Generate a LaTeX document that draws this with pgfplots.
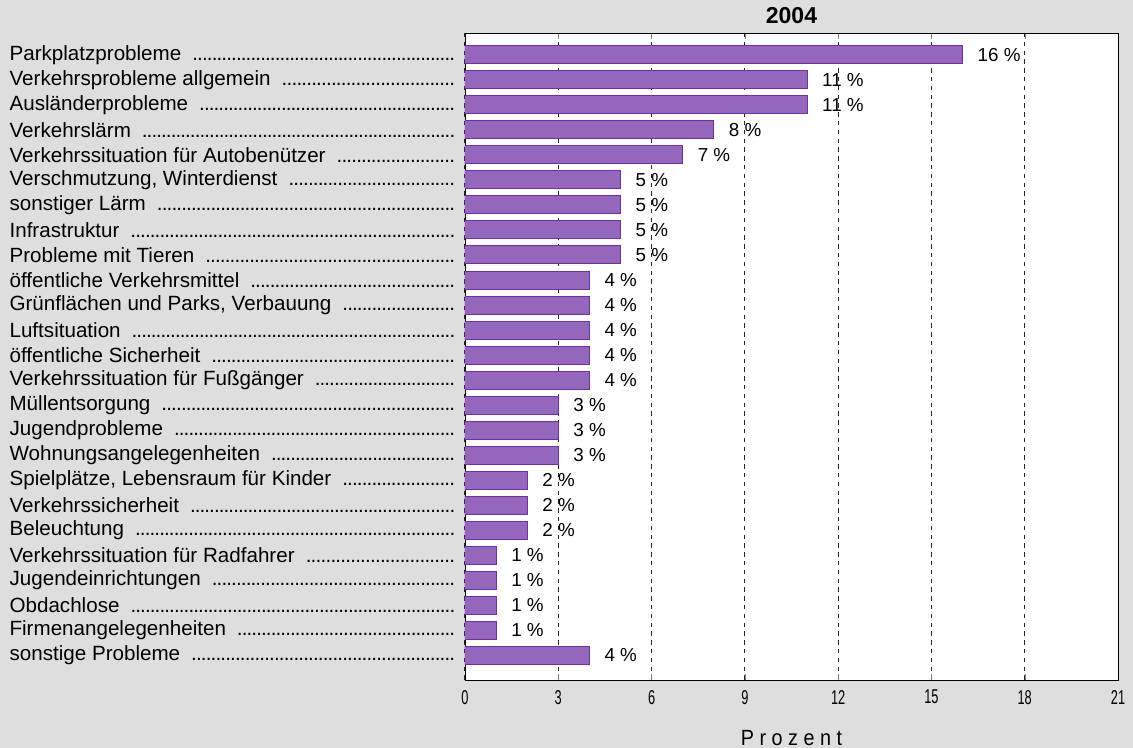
\documentclass[border=0pt]{standalone}
\usepackage{fontspec}
\setmainfont{Liberation Sans}
\newfontfamily\narrowfont[FakeStretch=0.64]{Liberation Sans}
\newfontfamily\xlabfont[FakeStretch=0.9]{Liberation Sans}
\usepackage{graphicx}
\usepackage{pgfplots}
\pgfplotsset{compat=1.18}

\definecolor{bgc}{RGB}{222,222,222}
\definecolor{barfill}{RGB}{148,103,189}
\definecolor{barline}{RGB}{112,48,160}

% category label with dotted leader
\newcommand{\lab}[1]{\hbox to 222.5pt{#1\ \ \xleaders\hbox to 2.4pt{\hss.\hss}\hfill}}

\begin{document}
\begin{tikzpicture}
\useasboundingbox (-232.5pt,-34pt) rectangle (334pt,340pt);
\fill[bgc] (-232.5pt,-34pt) rectangle (334pt,340pt);
\begin{axis}[
    at={(0,0)}, anchor=south west,
    scale only axis,
    width=326.5pt, height=323.5pt,
    axis background/.style={fill=white},
    xbar, bar width=0.72, bar shift=0pt,
    xmin=0, xmax=21,
    ymin=-0.88, ymax=25,
    y dir=reverse,
    xtick={0,3,...,21},
    xticklabels={0,3,6,9,12,15,18,21},
    xticklabel style={font=\narrowfont\fontsize{10}{11}\selectfont, yshift=-1.5pt},
    xmajorgrids,
    major grid style={black!85, dash pattern=on 2.2pt off 2.2pt, line width=0.5pt},
    major tick length=3pt,
    ytick={0,...,24},
    ytick style={draw=none},
    yticklabel style={font=\fontsize{10.3}{11}\selectfont, inner sep=0pt, xshift=-2pt},
    yticklabels={
      \lab{Parkplatzprobleme},
      \lab{Verkehrsprobleme allgemein},
      \lab{Ausländerprobleme},
      \lab{Verkehrslärm},
      \lab{Verkehrssituation für Autobenützer},
      \lab{Verschmutzung, Winterdienst},
      \lab{sonstiger Lärm},
      \lab{Infrastruktur},
      \lab{Probleme mit Tieren},
      \lab{öffentliche Verkehrsmittel},
      \lab{Grünflächen und Parks, Verbauung},
      \lab{Luftsituation},
      \lab{öffentliche Sicherheit},
      \lab{Verkehrssituation für Fußgänger},
      \lab{Müllentsorgung},
      \lab{Jugendprobleme},
      \lab{Wohnungsangelegenheiten},
      \lab{Spielplätze, Lebensraum für Kinder},
      \lab{Verkehrssicherheit},
      \lab{Beleuchtung},
      \lab{Verkehrssituation für Radfahrer},
      \lab{Jugendeinrichtungen},
      \lab{Obdachlose},
      \lab{Firmenangelegenheiten},
      \lab{sonstige Probleme}},
    title={\textbf{2004}},
    title style={font=\fontsize{11.5}{12}\selectfont, at={(0.5,1)}, anchor=center, yshift=2.5pt},
    xlabel={P r o z e n t},
    xlabel style={font=\xlabfont\fontsize{11}{12}\selectfont, at={(axis description cs:0.5,0)}, anchor=center, yshift=-29pt},
    nodes near coords={\pgfmathprintnumber[assume math mode=true]{\pgfplotspointmeta}\ \%},
    nodes near coords style={font=\fontsize{9.4}{10}\selectfont, anchor=west, xshift=4pt},
    point meta=x,
]
\addplot[fill=barfill, draw=barline, line width=0.5pt] coordinates {
(16,0) (11,1) (11,2) (8,3) (7,4) (5,5) (5,6) (5,7) (5,8)
(4,9) (4,10) (4,11) (4,12) (4,13) (3,14) (3,15) (3,16)
(2,17) (2,18) (2,19) (1,20) (1,21) (1,22) (1,23) (4,24)};
\end{axis}
\end{tikzpicture}
\end{document}
